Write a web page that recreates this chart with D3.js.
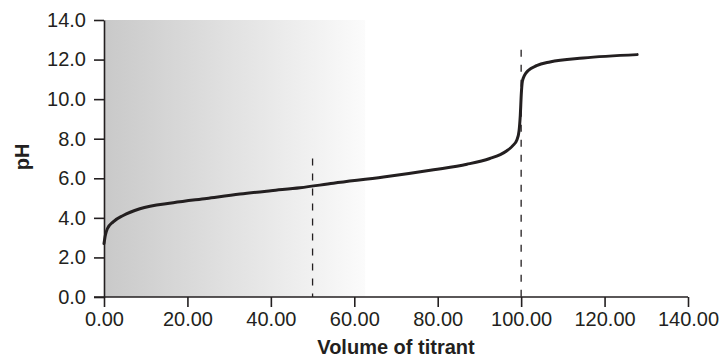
<!DOCTYPE html>
<html>
<head>
<meta charset="utf-8">
<script src="https://cdn.jsdelivr.net/npm/d3@7"></script>
<style>
  html, body { margin: 0; padding: 0; background: #fff; }
  svg { display: block; }
  text { font-family: "Liberation Sans", Arial, Helvetica, sans-serif; fill: #231f20; }
</style>
</head>
<body>
<svg id="chart" width="722" height="357"></svg>
<script>
// Data
const volume = [0, 0.3, 0.8, 2.2, 4.6, 8.6, 16.6, 24.6, 32.6, 40, 47, 55, 67, 79, 87, 92.5, 95, 96.5, 98, 99, 99.5, 99.8, 100.05, 100.3, 100.8, 101.7, 103.7, 106.9, 114.9, 127.8];
const pH     = [2.7, 3.1, 3.45, 3.8, 4.12, 4.46, 4.76, 4.98, 5.2, 5.37, 5.52, 5.75, 6.06, 6.43, 6.71, 7.0, 7.2, 7.38, 7.65, 7.95, 8.4, 9.2, 10.3, 10.9, 11.2, 11.45, 11.69, 11.88, 12.08, 12.25];
const xTicks = [0, 20, 40, 60, 80, 100, 120, 140];
const yTicks = [0, 2, 4, 6, 8, 10, 12, 14];
const markerVolumes = [50, 100];     // half-equivalence and equivalence points
const markerTops    = [7.0, 12.5];   // pH where the dashed markers end
const shadeEnd = 62.6;               // shaded region extends to this volume

(function () {
const svg = d3.select("#chart");
const mLeft = 104, mRight = 688, mTop = 20, mBottom = 297;

const x = d3.scaleLinear().domain([0, 140]).range([mLeft, mRight]);
const y = d3.scaleLinear().domain([0, 14]).range([mBottom, mTop]);

// gradient background
const defs = svg.append("defs");
const grad = defs.append("linearGradient").attr("id", "shade")
  .attr("x1", "0%").attr("x2", "100%").attr("y1", "0%").attr("y2", "0%");
grad.append("stop").attr("offset", "0%").attr("stop-color", "#c9c9c9");
grad.append("stop").attr("offset", "100%").attr("stop-color", "#fbfbfb");

svg.append("rect")
  .attr("x", x(0)).attr("y", y(14))
  .attr("width", x(shadeEnd) - x(0)).attr("height", y(0) - y(14))
  .attr("fill", "url(#shade)");

// dashed markers
svg.selectAll("line.marker").data(markerVolumes).enter().append("line")
  .attr("class", "marker")
  .attr("x1", d => x(d)).attr("x2", d => x(d))
  .attr("y1", (d, i) => y(markerTops[i])).attr("y2", y(0))
  .attr("stroke", "#231f20").attr("stroke-width", 1.3)
  .attr("stroke-dasharray", "7,8");

// axes
const xAxis = d3.axisBottom(x).tickValues(xTicks).tickFormat(d3.format(".2f"))
  .tickSizeOuter(0).tickSizeInner(10).tickPadding(5);
const yAxis = d3.axisLeft(y).tickValues(yTicks).tickFormat(d3.format(".1f"))
  .tickSizeOuter(0).tickSizeInner(10).tickPadding(8);

const gx = svg.append("g").attr("transform", `translate(0,${mBottom})`).call(xAxis);
const gy = svg.append("g").attr("transform", `translate(${mLeft},0)`).call(yAxis);

[gx, gy].forEach(g => {
  g.select(".domain").attr("stroke", "#231f20").attr("stroke-width", 1.6);
  g.selectAll(".tick line").attr("stroke", "#231f20").attr("stroke-width", 1.6);
  g.selectAll(".tick text").attr("font-size", 20).attr("fill", "#231f20")
    .attr("font-family", "'Liberation Sans', Arial, sans-serif");
});
gx.select(".domain").attr("d", `M${mLeft - 10},0H${mRight}`);

// curve
const pts = volume.map((v, i) => [v, pH[i]]);
const line = d3.line().x(d => x(d[0])).y(d => y(d[1])).curve(d3.curveMonotoneX);
svg.append("path").datum(pts)
  .attr("d", line)
  .attr("fill", "none")
  .attr("stroke", "#231f20")
  .attr("stroke-width", 3)
  .attr("stroke-linejoin", "round")
  .attr("stroke-linecap", "round");

// axis titles
svg.append("text")
  .attr("x", 396).attr("y", 354)
  .attr("text-anchor", "middle")
  .attr("font-size", 20).attr("font-weight", "bold")
  .text("Volume of titrant");

svg.append("text")
  .attr("transform", "translate(29,157) rotate(-90)")
  .attr("text-anchor", "middle")
  .attr("font-size", 20).attr("font-weight", "bold")
  .text("pH");
})();
</script>
</body>
</html>
